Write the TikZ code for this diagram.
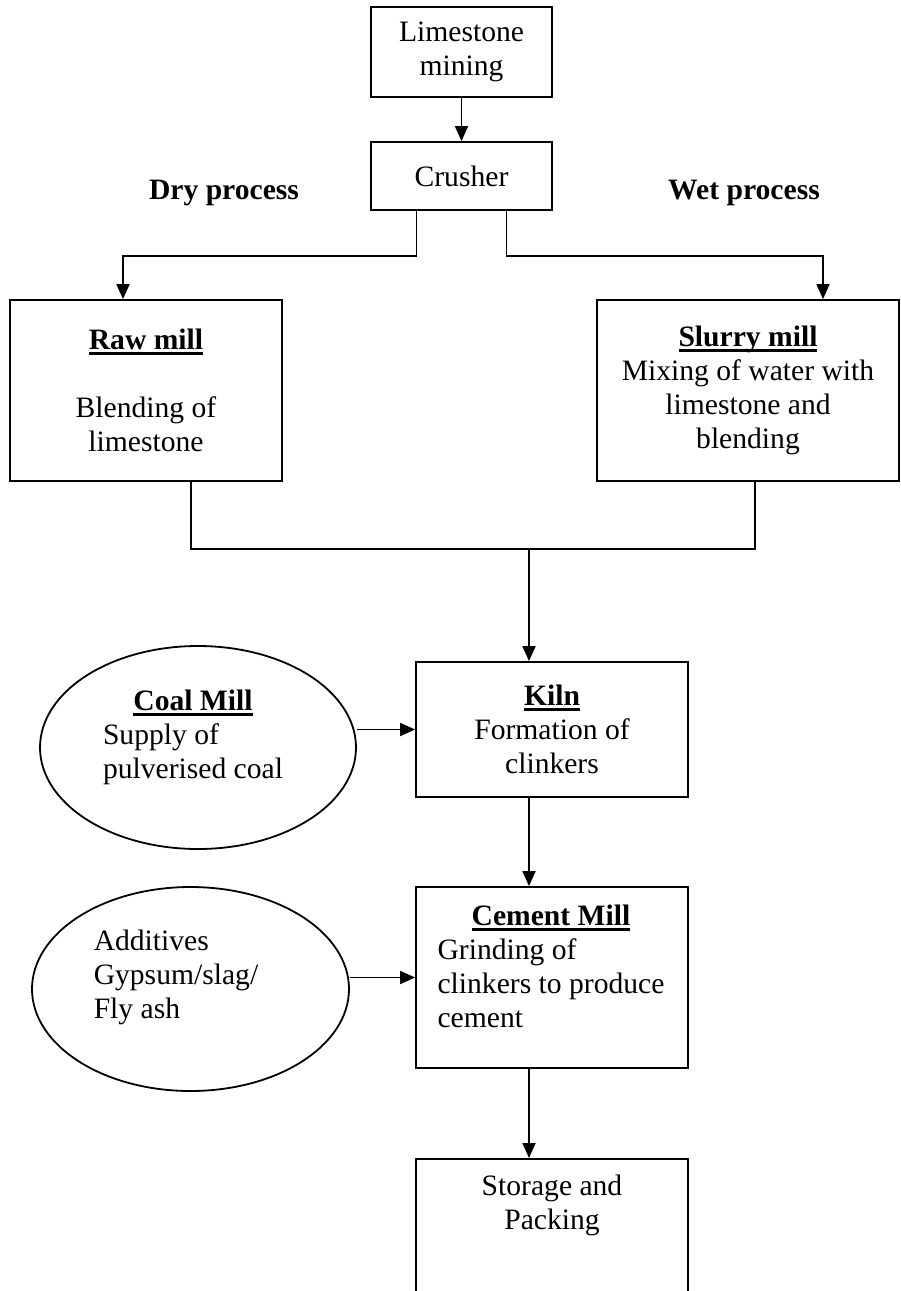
\documentclass[tikz,border=0pt]{standalone}
\usepackage{fontspec}
\setmainfont{Liberation Serif}
\usepackage{tikz}
\usetikzlibrary{positioning, calc, arrows.meta, shapes.geometric}
\newcommand{\uhead}[1]{\setbox0\hbox{\bfseries #1}\rlap{\rule[-5pt]{\wd0}{2.4pt}}\box0}

\begin{document}
\begin{tikzpicture}[x=1pt, y=-1pt, line width=1.8pt, >={Triangle[length=15pt, width=13pt]}]
	\tikzstyle{procbox}=[rectangle, draw=black, inner sep=0pt, align=center, font=\fontsize{29.6}{34}\selectfont]
	\tikzstyle{feed}=[ellipse, draw=black, inner sep=0pt, font=\fontsize{29.6}{34}\selectfont]
	\tikzstyle{route}=[font=\fontsize{29.6}{34}\selectfont\bfseries]

	\useasboundingbox (0,0) rectangle (901,1291);
	\clip (0,0) rectangle (901,1291);

	\node[procbox, minimum width=181pt, minimum height=90pt] (lime) at (461.5, 52) {Limestone\\mining};
	\node[procbox, minimum width=181pt, minimum height=68pt] (crush) at (461.5, 176) {Crusher};

	\node[route] (dry) at (224, 193) {Dry process};
	\node[route] (wet) at (744, 193) {Wet process};

	\node[procbox, minimum width=272pt, minimum height=181pt] (raw) at (146, 390.5) {\uhead{Raw mill}\\[34pt]Blending of\\limestone};
	\node[procbox, minimum width=302pt, minimum height=181pt] (slurry) at (748, 390.5) {\uhead{Slurry mill}\\Mixing of water with\\limestone and\\blending};

	\node[procbox, minimum width=272pt, minimum height=135pt] (kiln) at (552, 729.5) {\uhead{Kiln}\\Formation of\\clinkers};
	\node[feed, minimum width=316pt, minimum height=203pt] (coal) at (198, 747.5) {};
	\node[font=\fontsize{29.6}{34}\selectfont, inner sep=0pt] (coaltext) at (193, 738) {\begin{tabular}{@{}l@{}}\multicolumn{1}{@{}c@{}}{\uhead{Coal Mill}}\\Supply of\\pulverised coal\end{tabular}};

	\node[procbox, minimum width=272pt, minimum height=181pt] (cement) at (552, 977.5) {};
	\node[font=\fontsize{29.6}{34}\selectfont, inner sep=0pt] (cementtext) at (551, 970) {\begin{tabular}{@{}l@{}}\multicolumn{1}{@{}c@{}}{\uhead{Cement Mill}}\\Grinding of\\clinkers to produce\\cement\end{tabular}};
	\node[feed, minimum width=317pt, minimum height=204pt] (addit) at (190.5, 989) {};
	\node[font=\fontsize{29.6}{34}\selectfont, inner sep=0pt] (additext) at (176, 978) {\begin{tabular}{@{}l@{}}Additives\\Gypsum/slag/\\Fly ash\end{tabular}};

	\node[procbox, minimum width=272pt, minimum height=200pt, anchor=north] (store) at (552, 1158) {};
	\node[font=\fontsize{29.6}{34}\selectfont, align=center, inner sep=0pt] (storetext) at (552, 1205) {Storage and\\Packing};

	\draw[->] (lime) -- (crush);
	\draw[->] ([xshift=-45pt]crush.south) -- ++(0, 45) -| ([xshift=-23pt]raw.north);
	\draw[->] ([xshift=45pt]crush.south) -- ++(0, 45) -| ([xshift=75pt]slurry.north);

	\draw ([xshift=45pt]raw.south) -- ++(0, 67) -| ([xshift=7pt]slurry.south);
	\coordinate (merge) at (529, 548);
	\draw[->] (merge) -- ([xshift=-23pt]kiln.north);

	\draw[->] (coal.east |- kiln.west) -- (kiln.west);
	\draw[->] ([xshift=-23pt]kiln.south) -- ([xshift=-23pt]cement.north);
	\draw[->] (addit.east |- cement.west) -- (cement.west);
	\draw[->] ([xshift=-23pt]cement.south) -- ([xshift=-23pt]store.north);
\end{tikzpicture}
\end{document}
